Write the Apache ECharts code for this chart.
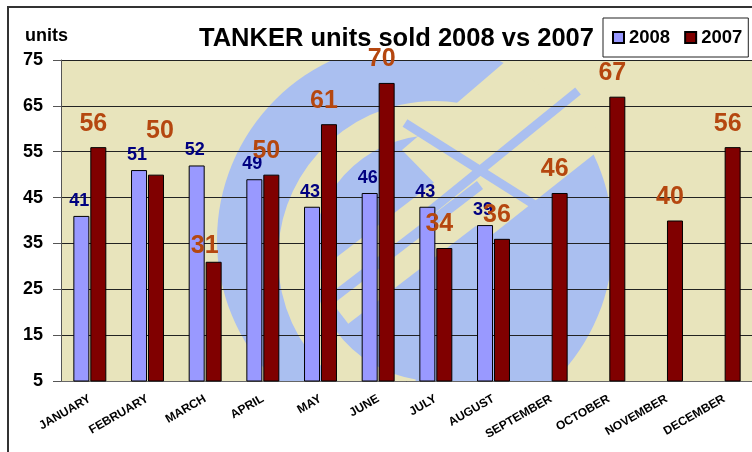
<!DOCTYPE html>
<html lang="en">
<head>
    <meta charset="UTF-8">
    <title>TANKER units sold</title>
    <script src="https://cdn.jsdelivr.net/npm/echarts@6/dist/echarts.min.js"></script>
    <style>
        html, body { margin: 0; padding: 0; background: #fff; }
    </style>
</head>
<body>
<div id="chart" style="width:752px;height:452px;"></div>
<script>
    // chart data
    var months = ['JANUARY', 'FEBRUARY', 'MARCH', 'APRIL', 'MAY', 'JUNE',
        'JULY', 'AUGUST', 'SEPTEMBER', 'OCTOBER', 'NOVEMBER', 'DECEMBER'];
    var units2008 = [41, 51, 52, 49, 43, 46, 43, 39, null, null, null, null];
    var units2007 = [56, 50, 31, 50, 61, 70, 34, 36, 46, 67, 40, 56];

    // a couple of 2007 labels sit away from their bars in the original
    var nudge2007 = {1: [4, -20], 2: [-9, 8]};

    var font = 'Liberation Sans, Arial, sans-serif';
    var beige = '#e8e4bc';
    var wmBlue = '#aabff0';

    var chart = echarts.init(document.getElementById('chart'));

    // faded logo behind the bars, then white covers outside the plot
    var watermark = [
        {type: 'rect', z: -30, shape: {x: 61, y: 60, width: 700, height: 321}, style: {fill: beige}},
        {type: 'circle', z: -29, shape: {cx: 415, cy: 240, r: 198}, style: {fill: wmBlue}},
        {type: 'arc', z: -28, shape: {cx: 435, cy: 258, r: 140, startAngle: Math.PI * 0.55, endAngle: Math.PI * 1.75}, style: {fill: 'none', stroke: beige, lineWidth: 34}},
        {type: 'line', z: -27, shape: {x1: 330, y1: 300, x2: 480, y2: 185}, style: {stroke: beige, lineWidth: 60}},
        {type: 'polygon', z: -26, shape: {points: [[507, 60], [612, 140], [488, 238], [402, 150]]}, style: {fill: beige}},
        {type: 'line', z: -25, shape: {x1: 405, y1: 123, x2: 565, y2: 224}, style: {stroke: wmBlue, lineWidth: 9}},
        {type: 'line', z: -25, shape: {x1: 425, y1: 215, x2: 578, y2: 91}, style: {stroke: wmBlue, lineWidth: 9}},
        {type: 'line', z: -25, shape: {x1: 330, y1: 300, x2: 480, y2: 185}, style: {stroke: wmBlue, lineWidth: 10}},
        {type: 'rect', z: -10, shape: {x: 0, y: 0, width: 752, height: 60}, style: {fill: '#fff'}},
        {type: 'rect', z: -10, shape: {x: 0, y: 381, width: 752, height: 71}, style: {fill: '#fff'}},
        {type: 'rect', z: -10, shape: {x: 0, y: 0, width: 61, height: 452}, style: {fill: '#fff'}},
        {type: 'polyline', z: -5, shape: {points: [[8, 460], [8, 7], [760, 7]]}, style: {stroke: '#333', lineWidth: 2, fill: 'none'}},
        {type: 'text', z: 5, left: 25, top: 27, style: {text: 'units', font: 'bold 18px ' + font, fill: '#000'}}
    ];

    var data2007 = units2007.map(function (v, i) {
        if (!nudge2007[i]) return v;
        return {value: v, label: {offset: nudge2007[i]}};
    });

    var option = {
        backgroundColor: '#fff',
        animation: false,
        textStyle: {fontFamily: font},
        title: {
            text: 'TANKER units sold 2008 vs 2007',
            left: 199,
            top: 26,
            padding: 0,
            textStyle: {fontSize: 25.5, fontWeight: 'bold', color: '#000', fontFamily: font}
        },
        legend: {
            left: 603,
            top: 18,
            padding: [10, 6, 10, 9],
            itemWidth: 11,
            itemHeight: 11,
            itemGap: 14,
            icon: 'rect',
            backgroundColor: '#fff',
            borderColor: '#222',
            borderWidth: 1,
            textStyle: {fontSize: 18.5, fontWeight: 'bold', color: '#000', fontFamily: font},
            data: ['2008', '2007']
        },
        graphic: watermark,
        grid: {
            left: 61,
            top: 60,
            width: 692,
            height: 321,
            containLabel: false,
            outerBoundsMode: 'none'
        },
        xAxis: {
            type: 'category',
            data: months,
            axisLine: {lineStyle: {color: '#666', width: 1}},
            axisTick: {length: 5, lineStyle: {color: '#777'}},
            axisLabel: {
                interval: 0,
                rotate: 30,
                margin: 17,
                fontSize: 12,
                fontWeight: 'bold',
                color: '#000',
                fontFamily: font
            },
            splitLine: {show: false}
        },
        yAxis: {
            type: 'value',
            min: 5,
            max: 75,
            interval: 10,
            axisLine: {show: true, lineStyle: {color: '#555', width: 1}},
            axisTick: {show: true, length: 8, lineStyle: {color: '#555'}},
            axisLabel: {
                margin: 18,
                fontSize: 18,
                fontWeight: 'bold',
                color: '#000',
                fontFamily: font
            },
            splitLine: {lineStyle: {color: '#222', width: 1}}
        },
        series: [
            {
                name: '2008',
                type: 'bar',
                data: units2008,
                barWidth: 16,
                barGap: '6%',
                itemStyle: {color: '#9999ff', borderColor: '#000', borderWidth: 1},
                label: {
                    show: true,
                    position: 'top',
                    distance: 6,
                    offset: [-2, 0],
                    color: '#000080',
                    fontSize: 18,
                    fontWeight: 'bold',
                    fontFamily: font
                }
            },
            {
                name: '2007',
                type: 'bar',
                data: data2007,
                barWidth: 16,
                itemStyle: {color: '#800000', borderColor: '#000', borderWidth: 1},
                label: {
                    show: true,
                    position: 'top',
                    distance: 11,
                    offset: [-5, 0],
                    color: '#b5470f',
                    fontSize: 25,
                    fontWeight: 'bold',
                    fontFamily: font
                }
            }
        ]
    };
    chart.setOption(option);
</script>
</body>
</html>
